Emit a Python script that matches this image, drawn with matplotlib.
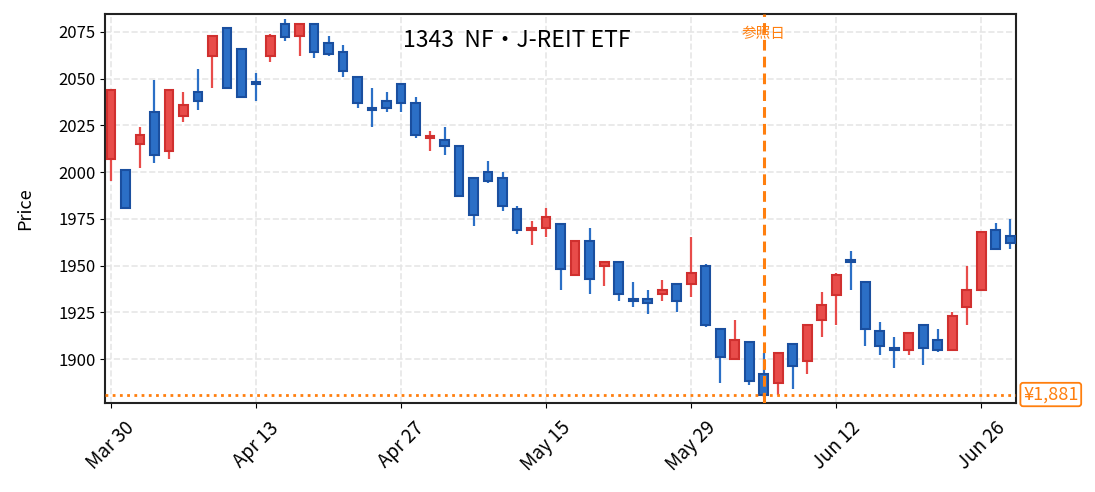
import numpy as np
import matplotlib
matplotlib.use("Agg")
import matplotlib.pyplot as plt

plt.rcParams['font.family'] = ['Noto Sans CJK JP', 'DejaVu Sans']

# daily OHLC, one entry per trading day (Mar 30 .. Jun 30)
opens = [2007, 2001, 2015, 2032, 2011, 2030, 2043, 2062, 2077, 2066,
         2048, 2062, 2079, 2073, 2079, 2069, 2064, 2051, 2034, 2038,
         2047, 2037, 2018, 2017, 2014, 1997, 2000, 1997, 1980, 1969,
         1970, 1972, 1945, 1963, 1950, 1952, 1932, 1932, 1935, 1940,
         1940, 1950, 1916, 1900, 1909, 1892, 1887, 1908, 1899, 1921,
         1934, 1953, 1941, 1915, 1906, 1905, 1918, 1910, 1905, 1928,
         1937, 1969, 1966]
closes = [2044, 1981, 2020, 2009, 2044, 2036, 2038, 2073, 2045, 2040,
          2047, 2073, 2072, 2079, 2064, 2063, 2054, 2037, 2033, 2034,
          2037, 2020, 2019, 2014, 1987, 1977, 1995, 1982, 1969, 1970,
          1976, 1948, 1963, 1943, 1952, 1935, 1931, 1930, 1937, 1931,
          1946, 1918, 1901, 1910, 1888, 1881, 1903, 1896, 1918, 1929,
          1945, 1952, 1916, 1907, 1905, 1914, 1906, 1905, 1923, 1937,
          1968, 1959, 1962]
highs = [2044, 2001, 2024, 2049, 2044, 2043, 2055, 2073, 2077, 2066,
         2053, 2074, 2082, 2079, 2079, 2073, 2068, 2051, 2045, 2043,
         2047, 2040, 2022, 2024, 2014, 1997, 2006, 2000, 1982, 1974,
         1981, 1972, 1963, 1970, 1952, 1952, 1941, 1937, 1942, 1940,
         1965, 1951, 1916, 1921, 1909, 1903, 1903, 1908, 1918, 1936,
         1946, 1958, 1941, 1920, 1912, 1914, 1918, 1916, 1925, 1950,
         1968, 1973, 1975]
lows = [1995, 1980, 2002, 2005, 2007, 2027, 2033, 2045, 2045, 2040,
        2038, 2059, 2070, 2062, 2061, 2062, 2051, 2034, 2024, 2032,
        2032, 2018, 2011, 2009, 1987, 1971, 1994, 1979, 1967, 1961,
        1965, 1937, 1945, 1935, 1939, 1931, 1928, 1924, 1931, 1925,
        1933, 1917, 1887, 1900, 1886, 1881, 1881, 1884, 1892, 1912,
        1918, 1937, 1907, 1902, 1895, 1902, 1897, 1904, 1905, 1918,
        1937, 1959, 1959]

tick_pos = [0, 10, 20, 30, 40, 50, 60]
tick_labels = ['Mar 30', 'Apr 13', 'Apr 27', 'May 15', 'May 29', 'Jun 12', 'Jun 26']

ref_idx = 45
ref_price = 1881
title = '1343  NF・J-REIT ETF'

up_fill, up_edge = '#e84c4a', '#d0302f'
dn_fill, dn_edge = '#2b6fc6', '#1a4f9f'

fig = plt.figure(figsize=(10.95, 4.92), dpi=100)
ax = fig.add_axes([0.096, 0.181, 0.832, 0.7905])

x = np.arange(len(opens))
o = np.array(opens); c = np.array(closes)
h = np.array(highs); l = np.array(lows)
up = c >= o

# wicks
ax.vlines(x[up], l[up], h[up], color=up_fill, lw=1.6, zorder=2)
ax.vlines(x[~up], l[~up], h[~up], color=dn_fill, lw=1.6, zorder=2)

# bodies
bottom = np.minimum(o, c)
height = np.maximum(np.abs(c - o), 0.8)
ax.bar(x[up], height[up], bottom=bottom[up], width=0.6,
       color=up_fill, edgecolor=up_edge, linewidth=1.5, zorder=3)
ax.bar(x[~up], height[~up], bottom=bottom[~up], width=0.6,
       color=dn_fill, edgecolor=dn_edge, linewidth=1.5, zorder=3)

# reference day + price
ax.axvline(ref_idx, color='#ff7f0e', lw=2.2, ls=(0, (3.5, 2)), zorder=4)
ax.axhline(ref_price, color='#ff7f0e', lw=2, ls=(0, (1, 1.6)), zorder=4)
ax.text(ref_idx, 2074, '参照日', color='#ff7f0e', fontsize=10.5,
        ha='center', va='center', zorder=5)
ax.annotate(f'¥{ref_price:,}', xy=(1.0, ref_price),
            xycoords=('axes fraction', 'data'), xytext=(5, 0),
            textcoords='offset points', ha='left', va='center',
            color='#ff7f0e', fontsize=13,
            bbox=dict(boxstyle='round,pad=0.15', fc='white', ec='#ff7f0e', lw=1.3),
            annotation_clip=False)

ax.text(0.452, 0.933, title, transform=ax.transAxes, ha='center',
        va='center', fontsize=16.5)

ax.set_xlim(-0.4, 62.4)
ax.set_ylim(1876.5, 2084.5)
ax.set_yticks([1900, 1925, 1950, 1975, 2000, 2025, 2050, 2075])
ax.set_xticks(tick_pos)
ax.set_xticklabels(tick_labels, rotation=45, fontsize=13.5)
ax.tick_params(axis='y', labelsize=12)
ax.tick_params(axis='x', pad=7)
ax.set_ylabel('Price', fontsize=13, labelpad=17)
ax.grid(True, ls='--', color='#e6e6e6', lw=1.2)
ax.set_axisbelow(True)
for s in ax.spines.values():
    s.set_linewidth(1.5)
    s.set_color('#222222')

fig.savefig('out.png', dpi=100)
